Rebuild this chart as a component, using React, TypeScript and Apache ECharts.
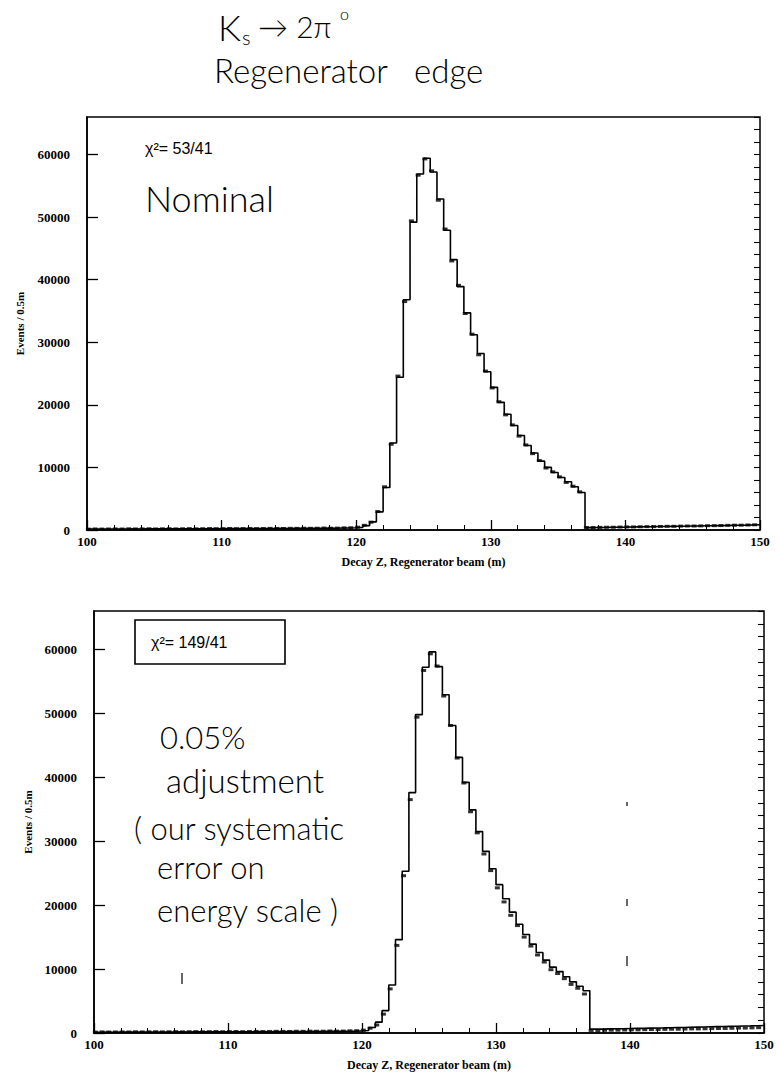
import React, { useEffect, useRef } from "react";
import * as echarts from "echarts";

// Histogram binning (Decay Z, m)
const binStart = 100;
const binWidth = 0.5;

// MC histogram, nominal energy scale (events / 0.5 m), bins 100.0 ... 149.5
const mcNominal = [
  150, 160, 150, 170, 160, 170, 180, 170, 180, 190,
  180, 190, 200, 190, 200, 210, 200, 210, 220, 210,
  220, 230, 220, 230, 240, 230, 240, 250, 260, 250,
  260, 270, 280, 270, 290, 300, 290, 310, 330, 350,
  420, 700, 1300, 2900, 6800, 13900, 24400, 36800, 49200, 56900,
  59400, 57200, 52900, 47900, 43200, 38900, 34700, 31200, 28200, 25300,
  22800, 20400, 18500, 16700, 15100, 13500, 12300, 11000, 10000, 9200,
  8400, 7700, 6900, 6000,
  380, 400, 410, 430, 450, 460, 480, 500, 510, 530,
  550, 560, 580, 600, 610, 630, 650, 670, 680, 700,
  720, 740, 760, 780, 810, 840,
];

// MC histogram, 0.05% energy-scale adjustment
const mcAdjusted = [
  120, 130, 120, 140, 130, 140, 150, 140, 150, 160,
  150, 160, 170, 160, 170, 180, 170, 180, 190, 180,
  190, 200, 190, 200, 210, 200, 210, 220, 230, 220,
  230, 240, 250, 240, 260, 270, 260, 280, 300, 330,
  400, 850, 1700, 3500, 7500, 14600, 25300, 37600, 49800, 57200,
  59600, 57300, 52900, 48100, 43100, 39200, 34900, 31500, 28400, 25700,
  23200, 21000, 18900, 17000, 15400, 13900, 12600, 11400, 10300, 9600,
  8800, 8000, 7300, 6600,
  600, 610, 640, 660, 670, 700, 720, 730, 760, 790,
  800, 830, 850, 870, 900, 920, 940, 970, 990, 1010,
  1040, 1060, 1090, 1110, 1140, 1180,
];

// Data points (events / 0.5 m)
const dataEvents = [
  140, 170, 150, 160, 170, 160, 190, 170, 180, 200,
  170, 190, 210, 180, 200, 220, 190, 210, 230, 200,
  220, 240, 210, 230, 250, 220, 240, 260, 250, 240,
  270, 260, 290, 270, 280, 310, 290, 300, 340, 360,
  450, 750, 1250, 2950, 6900, 13700, 24600, 36500, 49400, 56700,
  59300, 57400, 52700, 48100, 43000, 39100, 34600, 31300, 28000, 25400,
  22700, 20500, 18400, 16800, 15000, 13600, 12200, 11100, 9900, 9300,
  8500, 7600, 7000, 6100,
  400, 390, 420, 440, 440, 470, 490, 490, 520, 540,
  540, 570, 590, 590, 620, 640, 640, 660, 690, 700,
  710, 740, 770, 770, 800, 830,
];

const xRange = [100, 150];
const yRange = [0, 66000];
const xTitle = "Decay Z, Regenerator beam (m)";
const yTitle = "Events / 0.5m";
const chiNominal = "χ²= 53/41";
const chiAdjusted = "χ²= 149/41";
const noteNominal = ["Nominal"];
const noteAdjusted = ["0.05%", "adjustment", "( our systematic", "error on", "energy scale )"];

const histLine = (vals: number[]) => {
  const pts: number[][] = vals.map((v, i) => [binStart + i * binWidth, v]);
  pts.push([binStart + vals.length * binWidth, vals[vals.length - 1]]);
  return pts;
};
const dataPts = (vals: number[]) => vals.map((v, i) => [binStart + (i + 0.5) * binWidth, v]);

const SERIF = "'Liberation Serif', 'DejaVu Serif', serif";
const HAND = "Lato, 'Open Sans', sans-serif";
const SANS = "'Liberation Sans', Arial, sans-serif";

function makeAxes(g: number, nameGapY: number) {
  const xMain = {
    gridIndex: g,
    type: "value",
    min: xRange[0],
    max: xRange[1],
    interval: 10,
    axisLine: { show: true, lineStyle: { color: "#000", width: 1.6 } },
    axisTick: { show: true, inside: true, length: 10, lineStyle: { color: "#000", width: 1.3 } },
    minorTick: { show: true, splitNumber: 5, length: 5, lineStyle: { color: "#000", width: 1 } },
    splitLine: { show: false },
    axisLabel: { color: "#000", fontFamily: SERIF, fontWeight: "bold", fontSize: 13, margin: 5 },
    name: xTitle,
    nameLocation: "middle",
    nameGap: 26,
    nameTextStyle: { color: "#000", fontFamily: SERIF, fontWeight: "bold", fontSize: 12 },
  };
  const yMain = {
    gridIndex: g,
    type: "value",
    min: yRange[0],
    max: yRange[1],
    interval: 10000,
    axisLine: { show: true, lineStyle: { color: "#000", width: 1.6 } },
    axisTick: { show: true, inside: true, length: 11, lineStyle: { color: "#000", width: 1.3 } },
    splitLine: { show: false },
    axisLabel: {
      color: "#000",
      fontFamily: SERIF,
      fontWeight: "bold",
      fontSize: 13,
      margin: 17,
      showMaxLabel: false,
      formatter: (v: number) => String(v),
    },
    name: yTitle,
    nameLocation: "middle",
    nameGap: nameGapY,
    nameTextStyle: { color: "#000", fontFamily: SERIF, fontWeight: "bold", fontSize: 11 },
  };
  const yMinor = {
    gridIndex: g,
    type: "value",
    min: yRange[0],
    max: yRange[1],
    interval: 2000,
    axisLine: { show: false },
    axisTick: { show: true, inside: true, length: 6, lineStyle: { color: "#000", width: 1.1 } },
    splitLine: { show: false },
    axisLabel: { show: false },
  };
  return { xMain, yMain, yMinor };
}

export default function App() {
  const ref = useRef<HTMLDivElement>(null);
  useEffect(() => {
    if (!ref.current) return;
    const chart = echarts.init(ref.current, null, { renderer: "svg" });
    const a0 = makeAxes(0, 62);
    const a1 = makeAxes(1, 61);

    const histSeries = (vals: number[], xi: number, yi: number) => ({
      type: "line",
      step: "end",
      xAxisIndex: xi,
      yAxisIndex: yi,
      data: histLine(vals),
      symbol: "none",
      lineStyle: { color: "#000", width: 1.6 },
      z: 3,
    });
    const dataSeries = (xi: number, yi: number) => ({
      type: "scatter",
      xAxisIndex: xi,
      yAxisIndex: yi,
      data: dataPts(dataEvents),
      symbol: "rect",
      symbolSize: [5, 3],
      symbolOffset: [-2, 0],
      itemStyle: { color: "#000" },
      z: 4,
    });

    const hand = (text: string, x: number, y: number, size: number) => ({
      type: "text",
      x,
      y,
      style: {
        text,
        fontFamily: HAND,
        fontSize: size,
        fontWeight: 300,
        fill: "#000",
        verticalAlign: "middle",
        align: "left",
      },
    });
    const speck = (x: number, y1: number, y2: number) => ({
      type: "line",
      shape: { x1: x, y1, x2: x, y2 },
      style: { stroke: "#000", lineWidth: 1.2 },
    });

    const option = {
      animation: false,
      backgroundColor: "#fff",
      grid: [
        { left: 87, top: 117, width: 673, height: 413, show: true, borderColor: "#000", borderWidth: 1.5, backgroundColor: "transparent" },
        { left: 94, top: 611, width: 670, height: 422, show: true, borderColor: "#000", borderWidth: 1.5, backgroundColor: "transparent" },
      ],
      xAxis: [a0.xMain, a1.xMain],
      yAxis: [a0.yMain, a0.yMinor, a1.yMain, a1.yMinor],
      series: [
        histSeries(mcNominal, 0, 0),
        dataSeries(0, 0),
        histSeries(mcAdjusted, 1, 2),
        dataSeries(1, 2),
      ],
      graphic: [
        // header
        hand("K", 218, 27, 36),
        hand("s", 242, 37, 20),
        hand("→ 2π", 258, 26, 30),
        hand("o", 340, 13, 16),
        hand("Regenerator   edge", 214, 70, 33),
        // top panel notes
        {
          type: "text",
          x: 145,
          y: 148,
          style: { text: chiNominal, fontFamily: SANS, fontSize: 16, fill: "#000", verticalAlign: "middle" },
        },
        hand(noteNominal[0], 145, 198, 36),
        // bottom panel notes
        {
          type: "rect",
          shape: { x: 135, y: 620, width: 150, height: 44 },
          style: { fill: "none", stroke: "#000", lineWidth: 1.6 },
        },
        {
          type: "text",
          x: 151,
          y: 642,
          style: { text: chiAdjusted, fontFamily: SANS, fontSize: 16, fill: "#000", verticalAlign: "middle" },
        },
        hand(noteAdjusted[0], 160, 737, 31),
        hand(noteAdjusted[1], 166, 780, 33),
        hand(noteAdjusted[2], 134, 828, 31),
        hand(noteAdjusted[3], 157, 867, 31),
        hand(noteAdjusted[4], 157, 910, 31),
        // scan specks
        speck(182, 973, 984),
        speck(627, 802, 806),
        speck(627, 899, 906),
        speck(627, 956, 966),
      ],
    };
    chart.setOption(option as any);
    return () => chart.dispose();
  }, []);
  return (
    <div
      ref={ref}
      style={{ position: "absolute", left: 0, top: 0, width: 780, height: 1075, background: "#fff" }}
    />
  );
}
